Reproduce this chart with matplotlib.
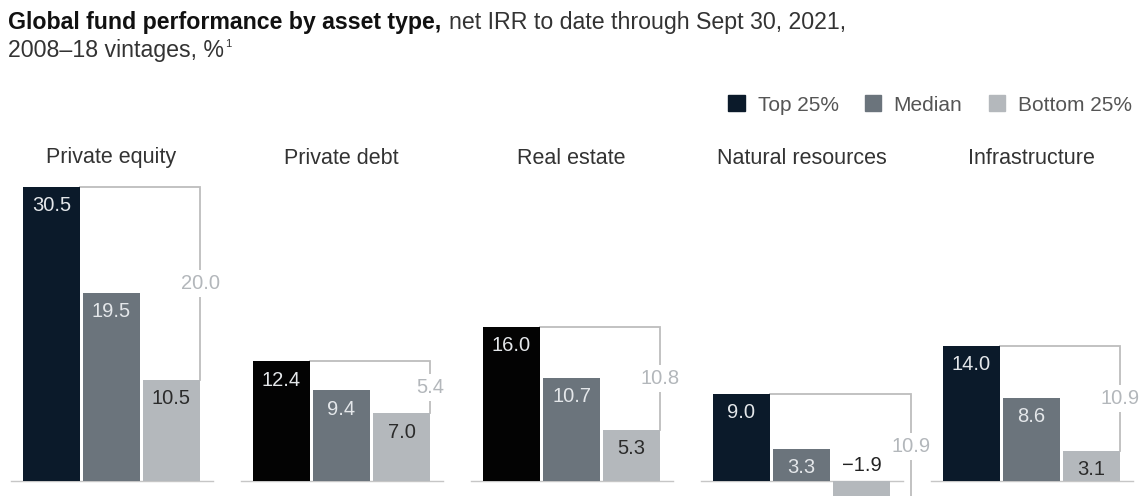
import matplotlib.pyplot as plt
from matplotlib.patches import Patch
from matplotlib.transforms import blended_transform_factory

plt.rcParams['font.family'] = ['Liberation Sans', 'DejaVu Sans']

# net IRR by asset class, %
categories = ["Private equity", "Private debt", "Real estate", "Natural resources", "Infrastructure"]
top_25 = [30.5, 12.4, 16.0, 9.0, 14.0]
median = [19.5, 9.4, 10.7, 3.3, 8.6]
bottom_25 = [10.5, 7.0, 5.3, -1.9, 3.1]
spread = ["20.0", "5.4", "10.8", "10.9", "10.9"]
series_names = ["Top 25%", "Median", "Bottom 25%"]

navy = "#0b1a2a"
top_colors = [navy, "#030303", "#030303", navy, navy]
median_color = "#6b747c"
bottom_color = "#b4b8bc"
line_color = "#bdbdbd"

group_step = 230 / 60
width = 0.95

fig = plt.figure(figsize=(11.41, 4.96), dpi=100)
ax = fig.add_axes([0, 0, 1, 1])
ax.set_xlim(-51.5 / 60, (1141 - 51.5) / 60)
ax.set_ylim(-15 / 9.65, 481 / 9.65)
ax.axis("off")

title_tr = blended_transform_factory(ax.transData, fig.transFigure)

for g, name in enumerate(categories):
    x0 = g * group_step
    xs = [x0, x0 + 1, x0 + 2]
    vals = [top_25[g], median[g], bottom_25[g]]
    cols = [top_colors[g], median_color, bottom_color]
    ax.bar(xs, vals, width=width, color=cols, zorder=2)

    # baseline under each group
    ax.plot([x0 - width / 2 - 0.2, x0 + 2 + width / 2 + 0.22], [0, 0],
            color="#c6c6c6", lw=1.0, zorder=1)

    # value labels inside the bars
    for x, v, tc in zip(xs, vals, ["#e4e7ea", "#e4e7ea", "#2b2b2b"]):
        if v >= 0:
            ax.annotate(f"{v:.1f}", (x, v), xytext=(0, -13.5), textcoords="offset points",
                        ha="center", va="center", fontsize=14.5, color=tc, zorder=3)
        else:
            ax.annotate(f"\u2212{abs(v):.1f}", (x, 0), xytext=(0, 11.5), textcoords="offset points",
                        ha="center", va="center", fontsize=14.5, color="#222222", zorder=3)

    # bracket between top and bottom quartile
    bx = x0 + 2 + width / 2 + (0.35 if bottom_25[g] < 0 else 0)
    ax.plot([x0 + width / 2, bx, bx], [top_25[g], top_25[g], bottom_25[g]],
            color=line_color, lw=1.3, zorder=1, solid_joinstyle="miter")
    ax.text(bx, (top_25[g] + bottom_25[g]) / 2, spread[g], ha="center", va="center",
            fontsize=14.5, color="#b3b7bb", zorder=2,
            bbox=dict(boxstyle="square,pad=0.2", fc="white", ec="none"))

    ax.text(x0 + 1, 1 - 158 / 496, name, transform=title_tr, ha="center", va="center",
            fontsize=15.5, color="#333333")

# title: bold lead-in followed by regular text
renderer = fig.canvas.get_renderer()
t1 = fig.text(8 / 1141, 1 - 22 / 496, "Global fund performance by asset type,",
              fontsize=16.7, fontweight="bold", color="#111111", va="center")
bb = t1.get_window_extent(renderer=renderer)
fig.text((bb.x1 + 8) / 1141, 1 - 22 / 496, "net IRR to date through Sept 30, 2021,",
         fontsize=16.7, color="#333333", va="center")
t3 = fig.text(8 / 1141, 1 - 50 / 496, "2008\u201318 vintages, %",
              fontsize=16.7, color="#333333", va="center")
bb3 = t3.get_window_extent(renderer=renderer)
fig.text((bb3.x1 + 1) / 1141, 1 - 44 / 496, "1", fontsize=8, color="#333333", va="center")

handles = [Patch(color=c) for c in [navy, median_color, bottom_color]]
fig.legend(handles, series_names, loc="center right", bbox_to_anchor=(1140 / 1141, 1 - 105 / 496),
           ncol=3, frameon=False, fontsize=15, handlelength=0.8, handleheight=0.8,
           handletextpad=0.6, columnspacing=1.25, borderaxespad=0, labelcolor="#555555")

fig.savefig("out.png", dpi=100)
